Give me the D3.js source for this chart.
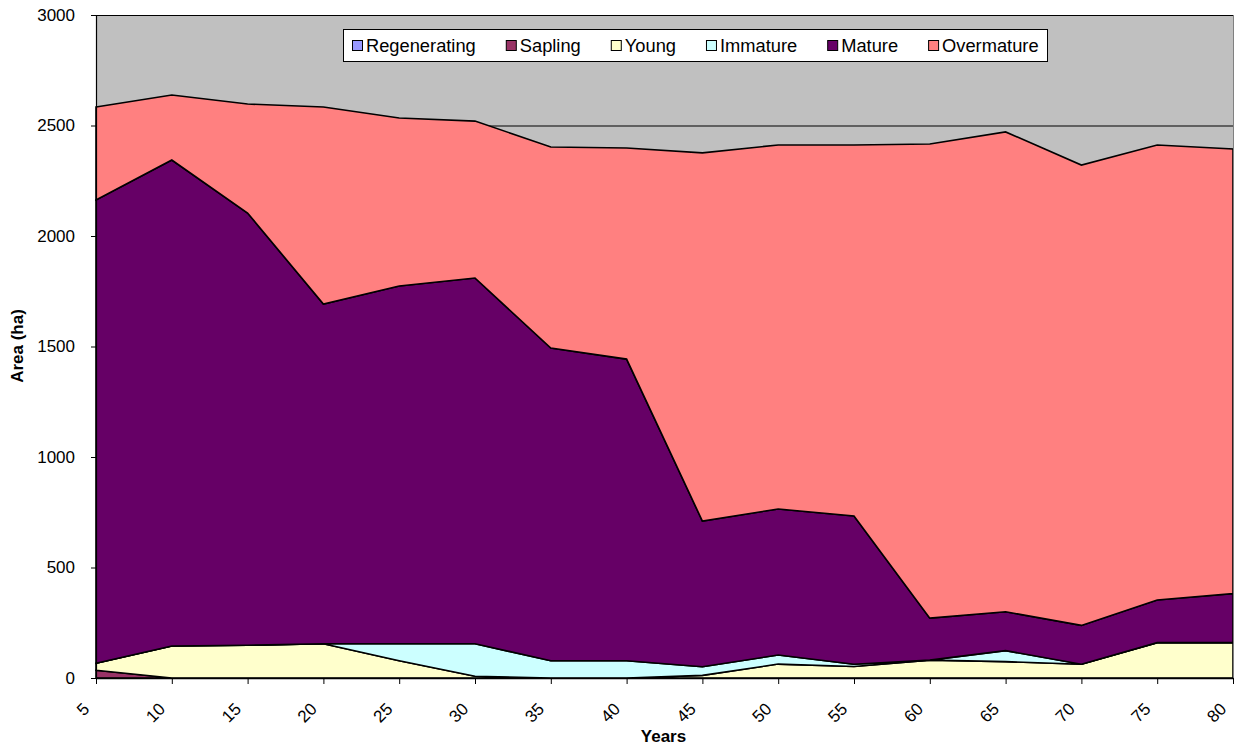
<!DOCTYPE html>
<html>
<head>
<meta charset="utf-8">
<script src="https://cdn.jsdelivr.net/npm/d3@7"></script>
<style>
  html, body { margin: 0; padding: 0; background: #fff; }
  svg { display: block; font-family: "Liberation Sans", Arial, sans-serif; }
</style>
</head>
<body>
<svg id="chart" width="1236" height="748"></svg>
<script>
const years = [5, 10, 15, 20, 25, 30, 35, 40, 45, 50, 55, 60, 65, 70, 75, 80];
const seriesNames = ["Regenerating", "Sapling", "Young", "Immature", "Mature", "Overmature"];
const seriesColors = ["#9999FF", "#993366", "#FFFFCC", "#CCFFFF", "#660066", "#FF8080"];
const regenerating = [0, 0, 0, 0, 0, 0, 0, 0, 0, 0, 0, 0, 0, 0, 0, 0];
const sapling = [35, 0, 0, 0, 0, 0, 0, 0, 0, 0, 0, 0, 0, 0, 0, 0];
const young = [32, 145, 148, 155, 78, 8, 0, 0, 12, 63, 52, 81, 74, 62, 160, 160];
const immature = [0, 0, 0, 0, 77, 147, 78, 78, 39, 41, 10, 0, 50, 0, 0, 0];
const mature = [2096, 2199, 1956, 1537, 1619, 1655, 1415, 1365, 659, 661, 671, 190, 176, 176, 193, 222];
const overmature = [421, 294, 493, 892, 760, 710, 910, 955, 1666, 1647, 1679, 2145, 2171, 2083, 2059, 2012];
const yTicks = [0, 500, 1000, 1500, 2000, 2500, 3000];

const seriesValues = [regenerating, sapling, young, immature, mature, overmature];
const table = years.map((yr, i) => {
  const row = { year: yr };
  seriesNames.forEach((n, k) => row[n] = seriesValues[k][i]);
  return row;
});

const svg = d3.select("#chart");
const pL = 96, pR = 1233, pT = 15, pB = 678;

const x = d3.scalePoint().domain(years).range([pL, pR]);
const y = d3.scaleLinear().domain([0, 3000]).range([pB, pT]);

// plot background
svg.append("rect").attr("x", pL).attr("y", pT)
  .attr("width", pR - pL).attr("height", pB - pT)
  .attr("fill", "#C0C0C0");

// gridlines
svg.append("g").selectAll("line").data(yTicks.filter(d => d > 0)).join("line")
  .attr("x1", pL).attr("x2", pR)
  .attr("y1", d => y(d) + 0.5).attr("y2", d => y(d) + 0.5)
  .attr("stroke", "#000").attr("stroke-width", 1);

// stacked areas
const stack = d3.stack().keys(seriesNames);
const layers = stack(table);
const area = d3.area()
  .x(d => x(d.data.year))
  .y0(d => y(d[0]))
  .y1(d => y(d[1]));

svg.append("g").selectAll("path").data(layers).join("path")
  .attr("d", area)
  .attr("fill", (d, i) => seriesColors[i])
  .attr("stroke", "#000")
  .attr("stroke-width", 1.6)
  .attr("stroke-linejoin", "miter");

// plot border right side
svg.append("line").attr("x1", pR + 0.5).attr("x2", pR + 0.5)
  .attr("y1", pT).attr("y2", pB).attr("stroke", "#808080");

// y axis
const yAxis = svg.append("g").attr("transform", `translate(${pL},0)`)
  .call(d3.axisLeft(y).tickValues(yTicks).tickSize(5).tickPadding(16).tickFormat(d3.format("d")));
yAxis.select(".domain").attr("stroke", "#000").attr("stroke-width", 1.2);
yAxis.selectAll(".tick line").attr("stroke", "#000");
yAxis.selectAll(".tick text").attr("font-size", 17).attr("fill", "#000")
  .attr("font-family", "Liberation Sans, Arial, sans-serif");

// x axis
const xAxis = svg.append("g").attr("transform", `translate(0,${pB})`)
  .call(d3.axisBottom(x).tickSize(6).tickSizeOuter(0));
xAxis.select(".domain").attr("stroke", "#000").attr("stroke-width", 1.5);
xAxis.selectAll(".tick line").attr("stroke", "#000");
xAxis.selectAll(".tick text")
  .attr("font-size", 17).attr("fill", "#000")
  .attr("font-family", "Liberation Sans, Arial, sans-serif")
  .attr("text-anchor", "end")
  .attr("dy", null)
  .attr("y", 0)
  .attr("transform", "translate(-6,32) rotate(-45)");

// axis titles
svg.append("text").attr("x", (pL + pR) / 2 - 1).attr("y", 742)
  .attr("text-anchor", "middle").attr("font-weight", "bold").attr("font-size", 17)
  .text("Years");
svg.append("text").attr("transform", "translate(23,346) rotate(-90)")
  .attr("text-anchor", "middle").attr("font-weight", "bold").attr("font-size", 17)
  .text("Area (ha)");

// legend
const legend = svg.append("g");
legend.append("rect").attr("x", 343.5).attr("y", 29.5).attr("width", 704).attr("height", 32)
  .attr("fill", "#fff").attr("stroke", "#000").attr("stroke-width", 1);
let lx = 352;
seriesNames.forEach((n, i) => {
  legend.append("rect").attr("x", lx + 0.5).attr("y", 40.5).attr("width", 10).attr("height", 10)
    .attr("fill", seriesColors[i]).attr("stroke", "#000").attr("stroke-width", 1);
  const t = legend.append("text").attr("x", lx + 14).attr("y", 52)
    .attr("font-size", 18.3).attr("fill", "#000").text(n);
  lx += 14 + t.node().getComputedTextLength() + 30;
});
</script>
</body>
</html>
